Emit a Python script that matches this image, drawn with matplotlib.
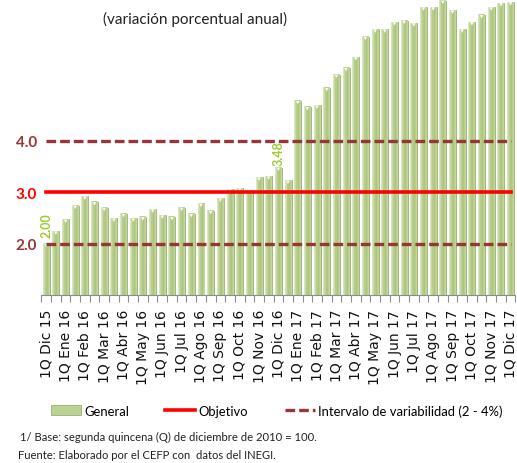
import matplotlib.pyplot as plt
import matplotlib.colors as mcolors
import numpy as np

# Inflacion general por quincena, 1Q Dic 15 - 1Q Dic 17
general = [2.00, 2.24, 2.47, 2.74, 2.92, 2.81, 2.70, 2.49, 2.58, 2.49,
           2.52, 2.67, 2.55, 2.52, 2.70, 2.58, 2.78, 2.64, 2.88, 3.06,
           3.08, 3.04, 3.29, 3.31, 3.48, 3.23, 4.78, 4.66, 4.69, 5.03,
           5.29, 5.42, 5.63, 6.03, 6.17, 6.17, 6.31, 6.34, 6.29, 6.60,
           6.60, 6.73, 6.54, 6.17, 6.31, 6.45, 6.60, 6.68, 6.70]
objetivo = [3.0] * len(general)
intervalo_inf = [2.0] * len(general)
intervalo_sup = [4.0] * len(general)

tick_labels = ["1Q Dic 15", "1Q Ene 16", "1Q Feb 16", "1Q Mar 16", "1Q Abr 16",
               "1Q May 16", "1Q Jun 16", "1Q Jul 16", "1Q Ago 16", "1Q Sep 16",
               "1Q Oct 16", "1Q Nov 16", "1Q Dic 16", "1Q Ene 17", "1Q Feb 17",
               "1Q Mar 17", "1Q Abr 17", "1Q May 17", "1Q Jun 17", "1Q Jul 17",
               "1Q Ago 17", "1Q Sep 17", "1Q Oct 17", "1Q Nov 17", "1Q Dic 17"]
etiquetas = {0: ("2.00", 5), 24: ("3.48", 1.5)}

rojo_osc = "#953735"
guiones = (0, (2.9, 1.2))
font_txt = ["Lato", "DejaVu Sans"]

fig = plt.figure(figsize=(5.17, 4.64), dpi=100)
ax = fig.add_axes([0.080, 0.362, 0.917, 0.638])
ax.set_xlim(-0.5, len(general) - 0.5)
ax.set_ylim(1.0, 6.76)
y0 = ax.get_ylim()[0]

x = np.arange(len(general))
bars = ax.bar(x, general, width=0.72, bottom=0, color="#bcd293",
              edgecolor="#9ab26c", linewidth=0.6, zorder=2)

# degradado horizontal dentro de cada barra
cmap = mcolors.LinearSegmentedColormap.from_list(
    "barra", ["#e2ecce", "#b8cf8e", "#aec581", "#c8dba6"])
grad = np.linspace(0, 1, 64).reshape(1, -1)
for b in bars:
    x0, w, h = b.get_x(), b.get_width(), b.get_height()
    im = ax.imshow(grad, cmap=cmap, aspect="auto", zorder=2.5,
                   extent=[x0, x0 + w, y0, h])
    im.set_clip_path(b)
    im.set_clip_box(ax.bbox)

# brillo blanco en la parte superior de cada barra
ax.scatter(x, np.array(general) - 0.035, marker="v", s=7, color="white",
           edgecolors="none", alpha=0.9, zorder=3)

ax.plot(x, objetivo, color="red", lw=2.6, zorder=4)
ax.plot(x, intervalo_inf, color=rojo_osc, lw=2.4, ls=guiones, zorder=4)
ax.plot(x, intervalo_sup, color=rojo_osc, lw=2.4, ls=guiones, zorder=4)

for i, (txt, off) in etiquetas.items():
    ax.annotate(txt, (i, general[i]), xytext=(0, off), textcoords="offset points",
                rotation=90, ha="center", va="bottom", color="#9ccb2e",
                fontsize=9, fontweight="bold", family=font_txt, zorder=5)

ax.set_xlim(-0.5, len(general) - 0.5)
ax.set_ylim(1.0, 6.76)

ax.set_xticks(x[::2])
ax.set_xticklabels(tick_labels, rotation=90, fontsize=10, family="DejaVu Sans",
                   color="#111111")
ax.set_xticks(np.arange(len(general) + 1) - 0.5, minor=True)
ax.tick_params(axis="x", which="major", length=0, pad=10)
ax.tick_params(axis="x", which="minor", length=5, color="#8c8c8c", width=0.8)

ax.set_yticks([2.0, 3.0, 4.0])
ax.set_yticklabels(["2.0", "3.0", "4.0"], fontsize=11, fontweight="bold",
                   family=font_txt)
for lab, c in zip(ax.get_yticklabels(), [rojo_osc, "red", rojo_osc]):
    lab.set_color(c)
ax.tick_params(axis="y", length=0, pad=3)

for s in ["left", "right", "top"]:
    ax.spines[s].set_visible(False)
ax.spines["bottom"].set_color("#8c8c8c")
ax.set_facecolor("none")

fig.text(0.377, 0.957, "(variación porcentual anual)", ha="center", va="center",
         fontsize=11, family=font_txt, color="#222222")

h_bar = plt.Rectangle((0, 0), 1, 1, facecolor="#bcd293", edgecolor="#9ab26c", lw=0.6)
h_obj, = ax.plot([], [], color="red", lw=2.6)
h_int, = ax.plot([], [], color=rojo_osc, lw=2.4, ls=guiones)
fig.legend([h_bar, h_obj, h_int],
           ["General", "Objetivo", "Intervalo de variabilidad (2 - 4%)"],
           loc="center", bbox_to_anchor=(0.535, 0.113), ncol=3, frameon=False,
           handlelength=2.3, handleheight=0.8, handletextpad=0.25,
           columnspacing=2.8, prop={"family": font_txt, "size": 9.4})

fig.text(0.039, 0.058, "1/ Base: segunda quincena (Q) de diciembre de 2010 = 100.",
         ha="left", va="center", fontsize=8.1, family=font_txt, color="#222222")
fig.text(0.035, 0.019, "Fuente: Elaborado por el CEFP con  datos del INEGI.",
         ha="left", va="center", fontsize=8.1, family=font_txt, color="#222222")

fig.savefig("out.png", dpi=100)
